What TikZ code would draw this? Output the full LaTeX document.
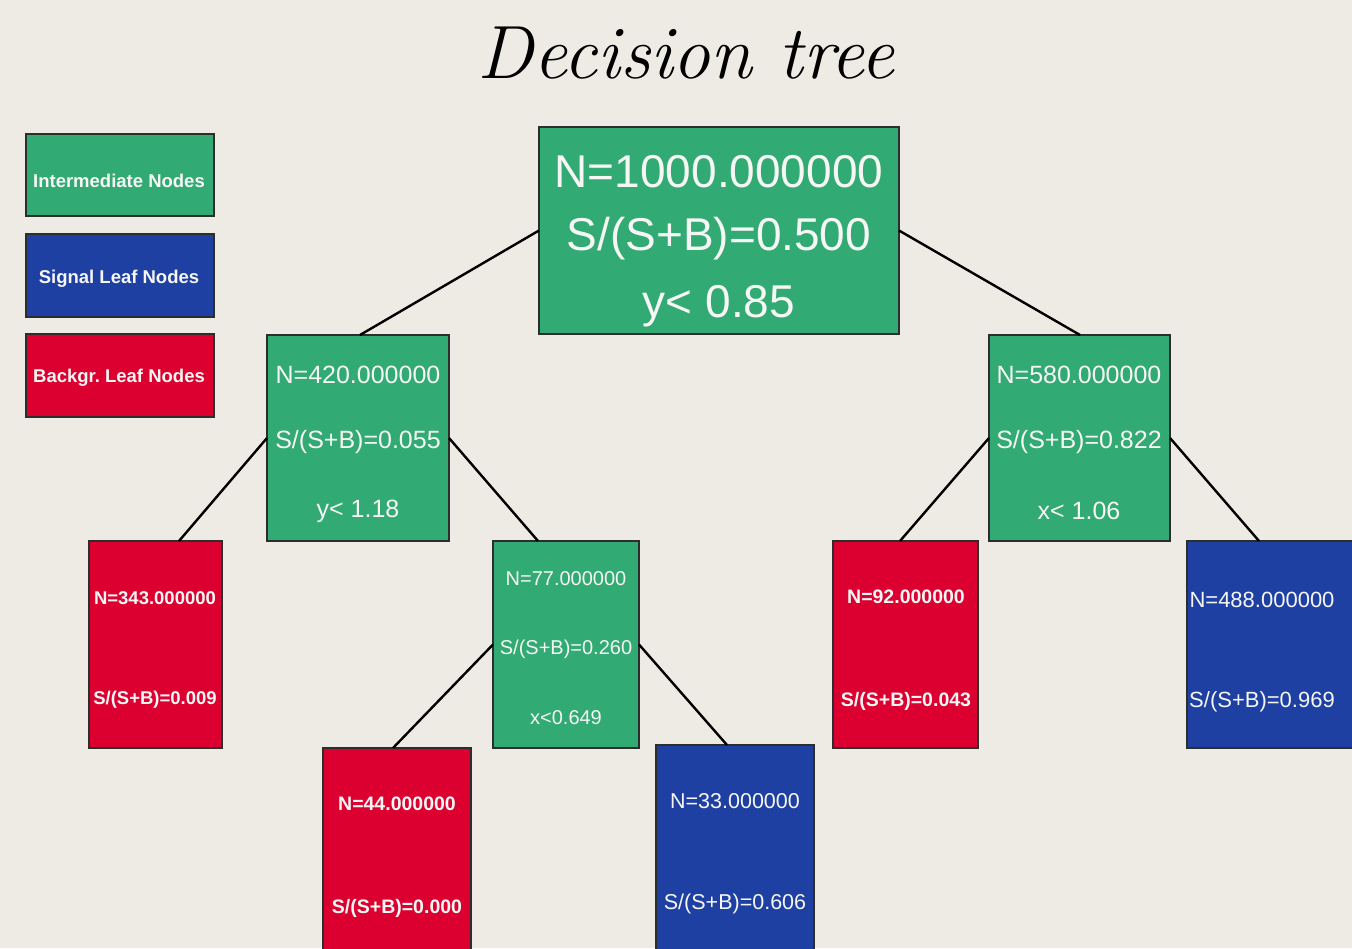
\documentclass[tikz,border=0pt]{standalone}
\usepackage{fontspec}
\newfontfamily\arial{Liberation Sans}
\definecolor{bgc}{RGB}{238,235,229}
\definecolor{grn}{RGB}{50,170,115}
\definecolor{blu}{RGB}{30,64,162}
\definecolor{rdd}{RGB}{220,0,48}
\definecolor{edge}{RGB}{45,45,45}
\definecolor{txtc}{RGB}{246,246,244}
\tikzset{
  box/.style={draw=edge, line width=1.6pt, inner sep=0pt, outer sep=0pt, anchor=north west},
  inter/.style={box, fill=grn},
  sigleaf/.style={box, fill=blu},
  bkgleaf/.style={box, fill=rdd},
  txt/.style={text=txtc, inner sep=0pt, anchor=base},
  conn/.style={line width=2.4pt, black},
}
\newcommand{\fs}[1]{\fontsize{#1}{#1}\selectfont}
\begin{document}
\begin{tikzpicture}[x=1pt, y=-1pt]
\fill[bgc] (0,0) rectangle (1352,948);
\useasboundingbox (0,0) rectangle (1352,948);

% title
\node[inner sep=0pt, anchor=base] (title) at (686,78) {\fs{75.5}\itshape Decision tree};

% legend
\node[inter, minimum width=188pt, minimum height=82pt] (legI) at (26,134) {};
\node[sigleaf, minimum width=188pt, minimum height=83pt] (legS) at (26,234) {};
\node[bkgleaf, minimum width=188pt, minimum height=83pt] (legB) at (26,334) {};
\node[txt] (legIt) at (119,187) {\arial\bfseries\fs{18.5}Intermediate Nodes};
\node[txt] (legSt) at (119,283) {\arial\bfseries\fs{18.5}Signal Leaf Nodes};
\node[txt] (legBt) at (119,382) {\arial\bfseries\fs{18.5}Backgr.\ Leaf Nodes};

% boxes
\node[inter, minimum width=360pt, minimum height=207pt] (root) at (539,127) {};
\node[inter, minimum width=182pt, minimum height=206pt] (n420) at (267,335) {};
\node[inter, minimum width=181pt, minimum height=206pt] (n580) at (989,335) {};
\node[bkgleaf, minimum width=133pt, minimum height=207pt] (n343) at (89,541) {};
\node[inter, minimum width=146pt, minimum height=207pt] (n77) at (493,541) {};
\node[bkgleaf, minimum width=145pt, minimum height=207pt] (n92) at (833,541) {};
\node[sigleaf, minimum width=185pt, minimum height=207pt] (n488) at (1187,541) {};
\node[bkgleaf, minimum width=148pt, minimum height=220pt] (n44) at (323,748) {};
\node[sigleaf, minimum width=158pt, minimum height=220pt] (n33) at (656,745) {};

% connectors
\draw[conn] (root.west) -- ([xshift=93pt]n420.north west);
\draw[conn] (root.east) -- ([xshift=91pt]n580.north west);
\draw[conn] (n420.west) -- ([xshift=90pt]n343.north west);
\draw[conn] (n420.east) -- ([xshift=45pt]n77.north west);
\draw[conn] (n580.west) -- ([xshift=67pt]n92.north west);
\draw[conn] (n580.east) -- ([xshift=72pt]n488.north west);
\draw[conn] (n77.west) -- ([xshift=70pt]n44.north west);
\draw[conn] (n77.east) -- ([xshift=71pt]n33.north west);

% texts
\node[txt] (rootA) at (719,187) {\arial\fs{46}N=1000.000000};
\node[txt] (rootB) at (719,250) {\arial\fs{46}S/(S+B)=0.500};
\node[txt] (rootC) at (719,317) {\arial\fs{46}y< 0.85};

\node[txt] (n420A) at (358,383) {\arial\fs{25}N=420.000000};
\node[txt] (n420B) at (358,448) {\arial\fs{25}S/(S+B)=0.055};
\node[txt] (n420C) at (358,517) {\arial\fs{25}y< 1.18};

\node[txt] (n580A) at (1079,383) {\arial\fs{25}N=580.000000};
\node[txt] (n580B) at (1079,448) {\arial\fs{25}S/(S+B)=0.822};
\node[txt] (n580C) at (1079,519) {\arial\fs{25}x< 1.06};

\node[txt] (n343A) at (155,604) {\arial\bfseries\fs{18.5}N=343.000000};
\node[txt] (n343B) at (155,704) {\arial\bfseries\fs{18.5}S/(S+B)=0.009};

\node[txt] (n77A) at (566,585) {\arial\fs{20}N=77.000000};
\node[txt] (n77B) at (566,654) {\arial\fs{20}S/(S+B)=0.260};
\node[txt] (n77C) at (566,724) {\arial\fs{20}x<0.649};

\node[txt] (n92A) at (906,603) {\arial\bfseries\fs{19.5}N=92.000000};
\node[txt] (n92B) at (906,706) {\arial\bfseries\fs{19.5}S/(S+B)=0.043};

\node[txt] (n488A) at (1262,607) {\arial\fs{22}N=488.000000};
\node[txt] (n488B) at (1262,707) {\arial\fs{22}S/(S+B)=0.969};

\node[txt] (n44A) at (397,810) {\arial\bfseries\fs{19.5}N=44.000000};
\node[txt] (n44B) at (397,913) {\arial\bfseries\fs{19.5}S/(S+B)=0.000};

\node[txt] (n33A) at (735,808) {\arial\fs{21.5}N=33.000000};
\node[txt] (n33B) at (735,909) {\arial\fs{21.5}S/(S+B)=0.606};
\end{tikzpicture}
\end{document}
